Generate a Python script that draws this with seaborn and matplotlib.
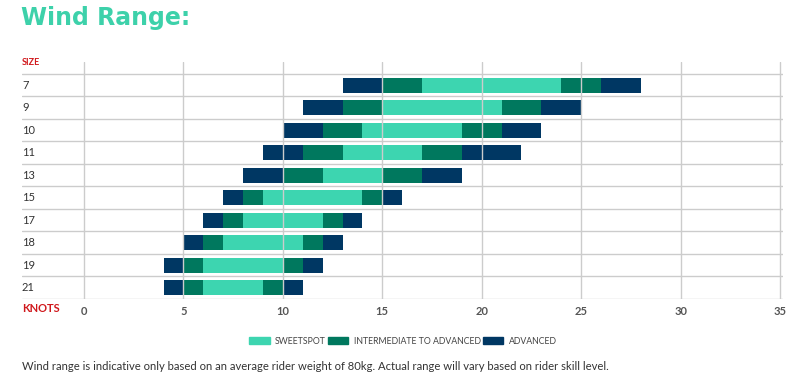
import pandas as pd
import matplotlib.pyplot as plt
import seaborn as sns
from matplotlib.patches import Patch

# kite sizes and wind ranges (knots)
sizes = ["7", "9", "10", "11", "13", "15", "17", "18", "19", "21"]
adv_lo = [13, 11, 10, 9, 8, 7, 6, 5, 4, 4]
int_lo = [15, 13, 12, 11, 10, 8, 7, 6, 5, 5]
sweet_lo = [17, 15, 14, 13, 12, 9, 8, 7, 6, 6]
sweet_hi = [24, 21, 19, 17, 15, 14, 12, 11, 10, 9]
int_hi = [26, 23, 21, 19, 17, 15, 13, 12, 11, 10]
adv_hi = [28, 25, 23, 22, 19, 16, 14, 13, 12, 11]
knot_ticks = [0, 5, 10, 15, 20, 25, 30, 35]

SWEET = "#3dd5b0"
INTER = "#00785e"
ADV = "#003763"
RED = "#d0181c"
GRID = "#cccccc"

df = pd.DataFrame({"size": sizes, "adv_lo": adv_lo, "int_lo": int_lo,
                   "sweet_lo": sweet_lo, "sweet_hi": sweet_hi,
                   "int_hi": int_hi, "adv_hi": adv_hi})

sns.set_theme(style="white")
plt.rcParams["font.family"] = ["Lato", "DejaVu Sans"]

fig = plt.figure(figsize=(7.93, 3.92), dpi=100)
ax = fig.add_axes([22 / 793, 1 - 299 / 392, 761 / 793, 237 / 392])

# floating bars: paint from the outer end inward, then blank out the left part
layers = [("adv_hi", ADV), ("int_hi", INTER), ("sweet_hi", SWEET),
          ("sweet_lo", INTER), ("int_lo", ADV), ("adv_lo", "white")]
for col, c in layers:
    sns.barplot(data=df, x=col, y="size", orient="h", color=c, saturation=1,
                width=0.67, linewidth=0, ax=ax, zorder=1)

ax.set_xlim(-3.118, 35.15)
ax.set_ylim(9.5, -1.033)
ax.set_xlabel("")
ax.set_ylabel("")
ax.set_yticks([])
ax.set_xticks(knot_ticks)
ax.set_xticklabels([str(k) for k in knot_ticks], fontsize=8, color="#555555",
                   fontweight="bold")
ax.tick_params(axis="x", length=0, pad=5)
for s in ax.spines.values():
    s.set_visible(False)

for k in knot_ticks:
    ax.axvline(k, color=GRID, lw=1, zorder=5)
for i in range(len(sizes) + 1):
    ax.axhline(i - 0.5, color=GRID, lw=1, zorder=5)

for i, s in enumerate(sizes):
    ax.text(0.0, i, s, transform=ax.get_yaxis_transform(), ha="left",
            va="center", fontsize=8, color="#333333")

ax.text(0.0, 0.996, "SIZE", transform=ax.transAxes, ha="left", va="center",
        fontsize=6.5, fontweight="bold", color=RED)
fig.text(22 / 793, 1 - 309 / 392, "KNOTS", ha="left", va="center",
         fontsize=8, fontweight="bold", color=RED)

fig.text(21 / 793, 1 - 18 / 392, "Wind Range:", ha="left", va="center",
         fontsize=17, fontweight="bold", color="#3dd1aa",
         family=["DejaVu Sans"])

handles = [Patch(color=SWEET, label="SWEETSPOT"),
           Patch(color=INTER, label="INTERMEDIATE TO ADVANCED"),
           Patch(color=ADV, label="ADVANCED")]
fig.legend(handles=handles, loc="center", bbox_to_anchor=(403 / 793, 1 - 341 / 392),
           ncol=3, frameon=False, fontsize=6.3, handlelength=2.3, handleheight=1.0,
           handletextpad=0.6, columnspacing=0.3, labelcolor="#444444")

fig.text(22 / 793, 1 - 366 / 392,
         "Wind range is indicative only based on an average rider weight of 80kg. "
         "Actual range will vary based on rider skill level.",
         ha="left", va="center", fontsize=8.1, color="#333333")

fig.savefig("out.png", dpi=100)
